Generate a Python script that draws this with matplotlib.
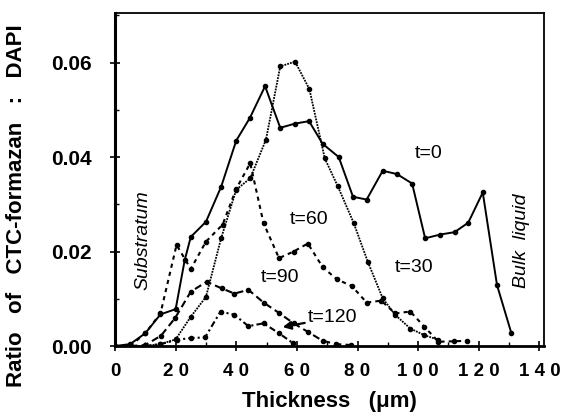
import matplotlib
matplotlib.use("Agg")
import matplotlib.pyplot as plt
from matplotlib.ticker import MultipleLocator

plt.rcParams['font.family'] = ['Liberation Sans', 'DejaVu Sans']

# t = 0 (solid)
x0 = [0, 5, 10, 15, 20, 23, 25, 30, 35, 40, 44.5, 49.5, 54.5, 59.5, 64, 68.5,
      73.8, 78.5, 83, 88.3, 93, 98, 102.3, 107.3, 112, 116.5, 121.3, 126, 130.7]
y0 = [0, 0.0004, 0.0027, 0.0067, 0.0078, 0.0182, 0.0231, 0.0263, 0.0337, 0.0435,
      0.0483, 0.055, 0.0462, 0.0471, 0.0476, 0.0428, 0.040, 0.0316, 0.031, 0.0371,
      0.0364, 0.0344, 0.0228, 0.0236, 0.0241, 0.0261, 0.0325, 0.0129, 0.0028]

# t = 30 (fine dotted)
x30 = [0, 5, 10, 15, 20, 25, 30, 35, 40, 44.6, 49.8, 54.5, 59.4, 64.1, 69.2,
       73.5, 78.7, 83.4, 88.3, 92.4, 97.4, 102, 106.7]
y30 = [0, 0, 0, 0.0004, 0.0014, 0.0062, 0.0104, 0.0228, 0.0331, 0.0355, 0.0437,
       0.0592, 0.0602, 0.0544, 0.0397, 0.0338, 0.0261, 0.0178, 0.0101, 0.0066,
       0.0037, 0.0023, 0.0013]

# t = 60 (short dashes)
x60 = [5, 10, 15, 20.3, 25, 30, 35.5, 40, 44.6, 49, 54.1, 58.9, 63.6, 68.5, 73.2,
       78.1, 83, 87.8, 92.4, 97.4, 102, 106.7, 111.7, 116]
y60 = [0, 0.0027, 0.0069, 0.0214, 0.0163, 0.0221, 0.0257, 0.0333, 0.0387, 0.026,
       0.0186, 0.020, 0.0217, 0.0167, 0.0141, 0.0127, 0.0092, 0.0096, 0.0069,
       0.0073, 0.0041, 0.0009, 0.001, 0.0011]

# t = 90 (dashed)
x90 = [5, 10, 15.2, 19.8, 25, 30.2, 35.2, 39.4, 44, 49, 54.1, 58.9, 63.6, 68.5,
       73, 78]
y90 = [0, 0.0002, 0.0022, 0.0059, 0.0115, 0.0136, 0.0122, 0.0111, 0.0119, 0.0092,
       0.007, 0.0048, 0.003, 0.0011, 0.0004, 0.0002]

# t = 120 (dash-dot)
x120 = [10, 15, 20.4, 25, 29.7, 34.8, 39.4, 44, 49, 54.1, 58.7]
y120 = [0, 0.0004, 0.0013, 0.0017, 0.0018, 0.0073, 0.0066, 0.0042, 0.0048, 0.0027,
        0.0006]

xticks = [0, 20, 40, 60, 80, 100, 120, 140]
xticklabels = ["0", "2 0", "4 0", "6 0", "8 0", "1 0 0", "1 2 0", "1 4 0"]
yticks = [0.00, 0.02, 0.04, 0.06]
yticklabels = ["0.00", "0.02", "0.04", "0.06"]

fig = plt.figure(figsize=(5.63, 4.16), dpi=100)
ax = fig.add_axes([115 / 563, 1 - 346 / 416, (544 - 115) / 563, (346 - 13) / 416])

ms = 3
ax.plot(x0, y0, color='black', lw=1.4, marker='o', ms=ms)
ax.plot(x30, y30, color='black', lw=1.3, ls=(0, (1, 0.6)), marker='o', ms=ms)
ax.plot(x60, y60, color='black', lw=1.5, ls=(0, (2, 2)), marker='o', ms=ms)
ax.plot(x90, y90, color='black', lw=1.5, ls=(0, (3.5, 2)), marker='o', ms=ms)
ax.plot(x120, y120, color='black', lw=1.5, ls=(0, (3, 1.5, 1, 1.5)), marker='o', ms=ms)

fs = 14
ax.text(103.5, 0.0408, "t=0", fontsize=fs, ha='center', va='center')
ax.text(64, 0.0267, "t=60", fontsize=fs, ha='center', va='center')
ax.text(54.5, 0.0144, "t=90", fontsize=fs, ha='center', va='center')
ax.text(98.5, 0.0167, "t=30", fontsize=fs, ha='center', va='center')
ax.annotate("t=120", xy=(55.3, 0.0040), xytext=(63.5, 0.0060), fontsize=fs,
            ha='left', va='center',
            arrowprops=dict(arrowstyle='-|>', color='black', lw=1.6,
                            shrinkA=0, shrinkB=0, mutation_scale=12))
ax.text(9.2, 0.0225, "Substratum", fontsize=fs, style='italic', rotation=90,
        ha='center', va='center')
ax.text(134, 0.0222, "Bulk  liquid", fontsize=fs, style='italic', rotation=90,
        ha='center', va='center')

ax.set_xlim(0, 141.5)
ax.set_ylim(0, 0.0705)
ax.set_xticks(xticks)
ax.set_xticklabels(xticklabels, fontweight='bold', fontsize=13.5)
ax.set_yticks(yticks)
ax.set_yticklabels(yticklabels, fontweight='bold', fontsize=15)
ax.xaxis.set_minor_locator(MultipleLocator(10))
ax.yaxis.set_minor_locator(MultipleLocator(0.01))
ax.tick_params(which='major', direction='inout', length=7, width=1.2)
ax.tick_params(axis='x', which='major', pad=9)
ax.tick_params(axis='y', which='major', pad=13)
ax.tick_params(which='minor', direction='in', length=3, width=1)

for s in ax.spines.values():
    s.set_linewidth(1.3)
ax.spines['left'].set_linewidth(2.2)
ax.spines['bottom'].set_linewidth(2)

ax.set_xlabel("Thickness   (\u03bcm)", fontsize=16, fontweight='bold', labelpad=8)
ax.set_ylabel("Ratio   of   CTC-formazan   :   DAPI", fontsize=16, fontweight='bold')
ax.yaxis.set_label_coords(-0.205, 0.42)

fig.savefig("out.png", dpi=100)
